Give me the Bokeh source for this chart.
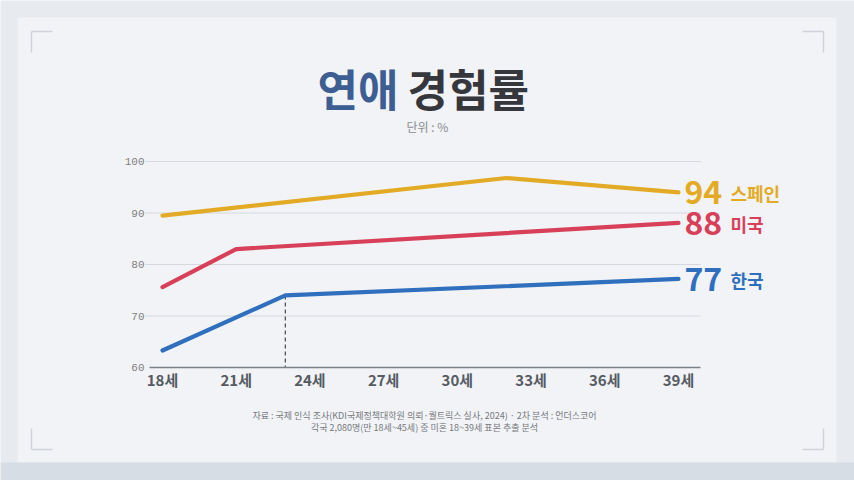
from bokeh.plotting import figure
from bokeh.models import Label, FixedTicker, Range1d, BoxAnnotation
from bokeh.embed import file_html
from bokeh.resources import INLINE

# ---- data ----
es_age = [18, 32, 39]
es_val = [89.5, 96.8, 94.0]
us_age = [18, 21, 39]
us_val = [75.6, 83.0, 88.1]
kr_age = [18, 23, 39]
kr_val = [63.3, 74.0, 77.2]
series_names = ["스페인", "미국", "한국"]
x_ticks = [18, 21, 24, 27, 30, 33, 36, 39]
x_tick_labels = [f"{a}세" for a in x_ticks]
y_ticks = [60, 70, 80, 90, 100]
grid_ticks = [70, 80, 90, 100]

title_a = "연애"
title_b = "경험률"
subtitle = "단위 : %"
note1 = "자료 : 국제 인식 조사(KDI국제정책대학원 의뢰·퀄트릭스 실사, 2024) · 2차 분석 : 언더스코어"
note2 = "각국 2,080명(만 18세~45세) 중 미혼 18~39세 표본 추출 분석"

YELLOW = "#e3ab25"
RED = "#d8405a"
BLUE = "#2f6fbd"
FONT = "Noto Sans CJK KR"
OUTER = "#e7eaee"
CARD = "#f1f3f6"

W, H = 854, 480
PX_X = 24.57   # px per year
PX_Y = 5.15    # px per %
X0 = 18 - 162 / PX_X
X1 = X0 + W / PX_X
Y0 = 60 - (H - 367) / PX_Y
Y1 = Y0 + H / PX_Y
X_END = 39.9

def dx(px):
    return X0 + px / PX_X
def dy(py):
    return Y0 + (H - py) / PX_Y

p = figure(width=W, height=H, output_backend="svg", toolbar_location=None,
           x_range=Range1d(X0, X1), y_range=Range1d(Y0, Y1),
           min_border_left=0, min_border_right=0, min_border_top=0, min_border_bottom=0)
p.outline_line_color = None
p.background_fill_color = OUTER
p.border_fill_color = OUTER

# background card and corner marks
def box(px0, px1, py0, py1, color):
    p.add_layout(BoxAnnotation(left=dx(px0), right=dx(px1), top=dy(py0), bottom=dy(py1),
                               fill_color=color, fill_alpha=1, line_color=None, level="image"))
box(17, 836, 17, 462, CARD)
box(0, 854, 462, 480, "#d7dde5")
for (cx, cy, sxn, syn) in [(31, 31, 1, 1), (823, 31, -1, 1), (31, 449, 1, -1), (823, 449, -1, -1)]:
    box(min(cx, cx + 21 * sxn), max(cx, cx + 21 * sxn), cy - 0.7, cy + 0.7, "#cfd3d9")
    box(cx - 0.7, cx + 0.7, min(cy, cy + 21 * syn), max(cy, cy + 21 * syn), "#cfd3d9")

# axes (drawn at fixed data locations inside the frame)
p.xaxis.fixed_location = 60
p.xaxis.ticker = FixedTicker(ticks=x_ticks)
p.xaxis.major_label_overrides = {t: l for t, l in zip(x_ticks, x_tick_labels)}
p.xaxis.major_label_text_font = FONT
p.xaxis.major_label_text_font_style = "bold"
p.xaxis.major_label_text_font_size = "15px"
p.xaxis.major_label_text_color = "#565b64"
p.xaxis.axis_line_color = "#7c8088"
p.xaxis.axis_line_width = 1.6
p.xaxis.major_tick_line_color = None
p.xaxis.minor_tick_line_color = None
p.xaxis.major_tick_out = 0
p.xaxis.major_tick_in = 0
p.xaxis.minor_tick_out = 0
p.xaxis.major_label_standoff = 1
p.xaxis.bounds = (dx(149), X_END)

p.yaxis.fixed_location = dx(145)
p.yaxis.ticker = FixedTicker(ticks=y_ticks)
p.yaxis.major_label_text_font = "Liberation Mono"
p.yaxis.major_label_text_font_size = "11px"
p.yaxis.major_label_text_color = "#808080"
p.yaxis.axis_line_color = None
p.yaxis.major_tick_line_color = None
p.yaxis.minor_tick_line_color = None
p.yaxis.major_tick_out = 0
p.yaxis.major_tick_in = 0
p.yaxis.minor_tick_out = 0
p.yaxis.major_label_standoff = 1

p.xgrid.grid_line_color = None
p.ygrid.grid_line_color = None

# horizontal guide lines at the y ticks
p.segment(x0=[dx(145)] * len(grid_ticks), y0=grid_ticks, x1=[X_END] * len(grid_ticks), y1=grid_ticks,
          line_color="#d5d8de", line_width=1)

# dashed guide at the Korean kink
p.segment(x0=[kr_age[1]], y0=[kr_val[1]], x1=[kr_age[1]], y1=[60], line_color="#555555",
          line_width=1.3, line_dash="4 3")

for ages, vals, col in [(es_age, es_val, YELLOW), (us_age, us_val, RED), (kr_age, kr_val, BLUE)]:
    p.line(ages, vals, line_color=col, line_width=4.2, line_cap="round", line_join="round")

# end labels
for ages, vals, col, name in [(es_age, es_val, YELLOW, series_names[0]),
                              (us_age, us_val, RED, series_names[1]),
                              (kr_age, kr_val, BLUE, series_names[2])]:
    p.add_layout(Label(x=ages[-1], y=vals[-1], text=str(round(vals[-1])), x_offset=6, y_offset=0,
                       text_font=FONT, text_font_style="bold", text_font_size="32px",
                       text_color=col, text_baseline="middle", text_align="left"))
    p.add_layout(Label(x=ages[-1], y=vals[-1], text=name, x_offset=52, y_offset=-1,
                       text_font=FONT, text_font_style="bold", text_font_size="18px",
                       text_color=col, text_baseline="middle", text_align="left"))

# titles
p.add_layout(Label(x=dx(398), y=dy(87), text=title_a,
                   text_font=FONT, text_font_style="bold", text_font_size="44px",
                   text_color="#3d5e92", text_baseline="middle", text_align="right"))
p.add_layout(Label(x=dx(407), y=dy(87), text=title_b,
                   text_font=FONT, text_font_style="bold", text_font_size="44px",
                   text_color="#35373c", text_baseline="middle", text_align="left"))
p.add_layout(Label(x=dx(427), y=dy(126), text=subtitle,
                   text_font=FONT, text_font_size="12px",
                   text_color="#8a8c90", text_baseline="middle", text_align="center"))

# footnotes
for note, py in [(note1, 415), (note2, 427)]:
    p.add_layout(Label(x=dx(424), y=dy(py), text=note,
                       text_font=FONT, text_font_size="9px",
                       text_color="#77797e", text_baseline="middle", text_align="center"))

open("out.html", "w").write(file_html(p, INLINE))
